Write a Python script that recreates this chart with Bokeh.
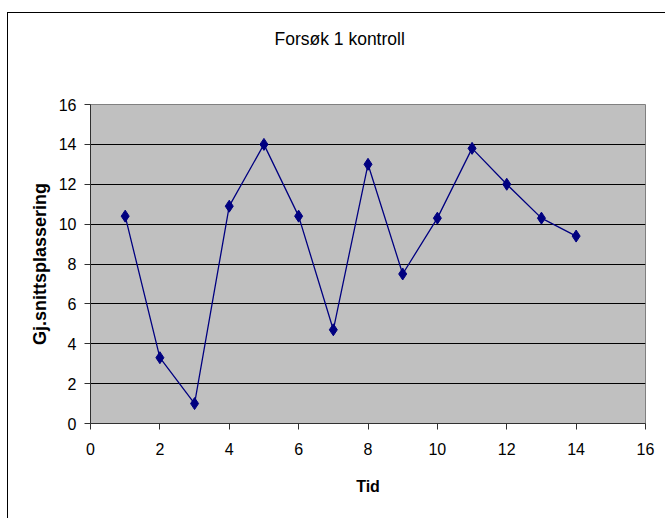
from bokeh.plotting import figure
from bokeh.models import FixedTicker, Range1d, Title
from bokeh.embed import file_html
from bokeh.resources import INLINE

# Average placement per time step (control run 1)
tid = [1, 2, 3, 4, 5, 6, 7, 8, 9, 10, 11, 12, 13, 14]
snittplassering = [10.4, 3.3, 1.0, 10.9, 14.0, 10.4, 4.7, 13.0, 7.5, 10.3, 13.8, 12.0, 10.3, 9.4]
x_ticks = [0, 2, 4, 6, 8, 10, 12, 14, 16]
y_ticks = [0, 2, 4, 6, 8, 10, 12, 14, 16]

FONT = "Liberation Sans"
NAVY = "#000080"

p = figure(
    width=665, height=518,
    output_backend="svg", toolbar_location=None,
    x_range=Range1d(0, 16), y_range=Range1d(0, 16),
    min_border_left=90, min_border_right=20,
    min_border_top=104, min_border_bottom=95,
)
p.title = Title(text="Forsøk 1 kontroll", align="left", offset=184,
                standoff=10, text_font=FONT, text_font_size="17.5px",
                text_font_style="normal", text_color="black")
# empty band between the title and the plot area
p.add_layout(Title(text=" ", text_font_size="1px", standoff=48), "above")

p.background_fill_color = "#C0C0C0"
p.border_fill_alpha = 0
p.outline_line_color = "#808080"
p.outline_line_width = 1

# chart area: white with a thin black frame line on the left and top
p.styles = {
    "background": (
        "linear-gradient(#000, #000) 7px 12px / 1px 100% no-repeat, "
        "linear-gradient(#000, #000) 7px 12px / 100% 1px no-repeat, "
        "#ffffff"
    ),
}

# grid: horizontal black lines only
p.xgrid.visible = False
p.ygrid.ticker = FixedTicker(ticks=[2, 4, 6, 8, 10, 12, 14])
p.ygrid.grid_line_color = "black"
p.ygrid.grid_line_width = 1

for ax in (p.xaxis[0], p.yaxis[0]):
    ax.axis_line_color = "#303030"
    ax.axis_line_width = 1
    ax.major_tick_line_color = "#303030"
    ax.major_tick_out = 6
    ax.major_tick_in = 0
    ax.minor_tick_line_color = None
    ax.major_label_text_font = FONT
    ax.major_label_text_font_size = "16px"
    ax.major_label_text_color = "black"
    ax.axis_label_text_font = FONT
    ax.axis_label_text_font_style = "bold"
    ax.axis_label_text_color = "black"

p.xaxis.ticker = FixedTicker(ticks=x_ticks)
p.yaxis.ticker = FixedTicker(ticks=y_ticks)
p.xaxis.major_label_standoff = 13
p.yaxis.major_label_standoff = 8
p.xaxis.axis_label = "Tid"
p.xaxis.axis_label_text_font_size = "16px"
p.xaxis.axis_label_standoff = 20
p.yaxis.axis_label = "Gj.snittsplassering"
p.yaxis.axis_label_text_font_size = "18px"
p.yaxis.axis_label_standoff = 6

# the series
p.line(tid, snittplassering, line_color=NAVY, line_width=1.3)
p.scatter(tid, snittplassering, marker="diamond", size=12,
          fill_color=NAVY, line_color=NAVY, line_width=1)

open("out.html", "w").write(file_html(p, INLINE))
